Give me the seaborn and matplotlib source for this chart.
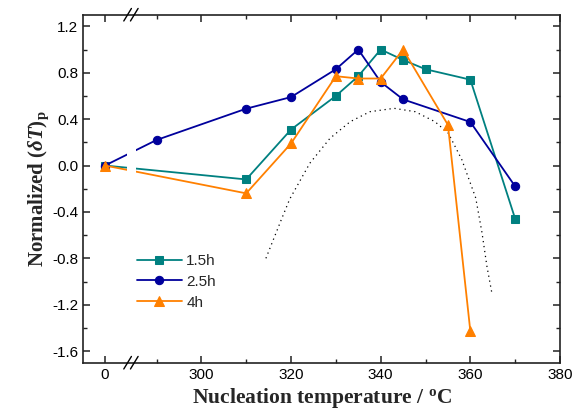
import matplotlib
matplotlib.use("Agg")
import matplotlib.pyplot as plt
import numpy as np
import pandas as pd
import seaborn as sns

# data
temp_15 = [0, 310, 320, 330, 335, 340, 345, 350, 360, 370]
val_15 = [0.0, -0.12, 0.31, 0.60, 0.77, 1.00, 0.91, 0.83, 0.74, -0.46]

temp_25 = [0, 290, 310, 320, 330, 335, 340, 345, 360, 370]
val_25 = [0.0, 0.22, 0.49, 0.59, 0.83, 1.00, 0.72, 0.57, 0.375, -0.18]

temp_4 = [0, 310, 320, 330, 335, 340, 345, 355, 360]
val_4 = [0.0, -0.24, 0.19, 0.77, 0.75, 0.75, 1.00, 0.35, -1.43]

# dotted reference curve
curve_t = [314.4, 317.8, 319.7, 324.2, 328.7, 333.2, 337.6, 343.0, 347.7,
           352.1, 355.1, 358.1, 361.2, 362.6, 363.7, 364.8]
curve_v = [-0.80, -0.47, -0.29, 0.02, 0.235, 0.378, 0.464, 0.493, 0.464,
           0.378, 0.278, 0.05, -0.28, -0.58, -0.87, -1.10]

labels = ["1.5h", "2.5h", "4h"]
colors = ["#008080", "#00009C", "#FF8000"]
markers = ["s", "o", "^"]
msizes = [5.5, 6.0, 7.0]

x_ticks = [0, 300, 320, 340, 360, 380]
y_ticks = [1.2, 0.8, 0.4, 0.0, -0.4, -0.8, -1.2, -1.6]

# broken axis: the "0" segment sits just left of the 290-380 segment
ZERO_POS = 278.5


def to_axis(t):
    return [ZERO_POS if v == 0 else v for v in t]


sns.set_style("ticks")
plt.rcParams["font.family"] = ["Liberation Sans", "DejaVu Sans"]
plt.rcParams["mathtext.fontset"] = "custom"
plt.rcParams["mathtext.rm"] = "Liberation Serif:bold"
plt.rcParams["mathtext.it"] = "Liberation Serif:bold:italic"

fig = plt.figure(figsize=(5.78, 4.17), dpi=100)
ax = fig.add_axes([0.1436, 0.1302, 0.8253, 0.8345])

series = [(temp_15, val_15), (temp_25, val_25), (temp_4, val_4)]
for (t, v), lab, c, m, ms in zip(series, labels, colors, markers, msizes):
    df = pd.DataFrame({"x": to_axis(t), "y": v})
    sns.lineplot(data=df, x="x", y="y", ax=ax, color=c, marker=m,
                 markersize=ms, markeredgecolor=c, linewidth=1.3,
                 label=lab, sort=False, zorder=4)

sns.lineplot(x=curve_t, y=curve_v, ax=ax, color="black", linestyle=(0, (1, 3)),
             linewidth=0.9, sort=False, zorder=2)

# gap in the lines at the axis break
ax.axvspan(283.4, 285.4, ymin=0.01, ymax=0.99, color="white", zorder=5, lw=0)

ax.set_xlim(273.6, 380)
ax.set_ylim(-1.7, 1.3)
ax.set_xticks(to_axis(x_ticks))
ax.set_xticklabels([str(v) for v in x_ticks])
ax.set_xticks([290, 310, 330, 350, 370], minor=True)
ax.set_yticks(y_ticks)
ax.set_yticklabels([f"{v:.1f}" for v in y_ticks])
ax.set_yticks(np.arange(-1.6, 1.3, 0.2), minor=True)

ax.tick_params(which="both", direction="in", top=True, right=True,
               labelsize=11, colors="#222222", labelcolor="black")
ax.tick_params(which="major", length=5, width=1.1)
ax.tick_params(which="minor", length=3, width=1.0)
for s in ax.spines.values():
    s.set_linewidth(1.2)
    s.set_color("#222222")

ax.set_xlabel(r"Nucleation temperature / $^{\rm o}$C", fontsize=15.5,
              fontweight="bold", family="Liberation Serif", labelpad=3)
ax.set_ylabel(r"Normalized ($\it{\delta T}$)$_{\rm p}$", fontsize=15,
              fontweight="bold", family="Liberation Serif", labelpad=1)

# break marks on top and bottom spines
bx = (284.4 - 273.6) / (380 - 273.6)
for yb in (0.0, 1.0):
    for dx in (-0.008, 0.006):
        ax.plot([bx + dx - 0.008, bx + dx + 0.008], [yb - 0.018, yb + 0.018],
                transform=ax.transAxes, color="black", lw=1.0, clip_on=False,
                zorder=6)

leg = ax.legend(loc="upper left", bbox_to_anchor=(0.085, 0.352), frameon=False,
                fontsize=11, handlelength=2.9, numpoints=1, labelspacing=0.45,
                handletextpad=0.3)

fig.savefig("out.png", dpi=100)
